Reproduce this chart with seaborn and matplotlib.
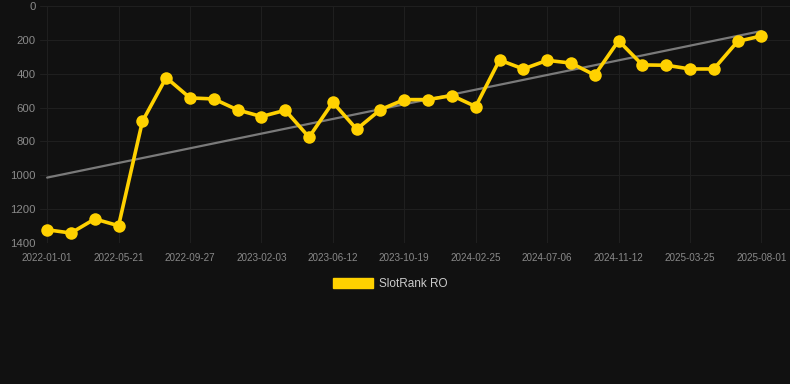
import matplotlib
matplotlib.use("Agg")
import matplotlib.pyplot as plt
from matplotlib.patches import Patch
import numpy as np
import pandas as pd
import seaborn as sns

# ranks, one point per period
ranks = [1322, 1341, 1258, 1298, 682, 423, 543, 549, 614, 653, 616, 775,
         569, 728, 612, 553, 553, 529, 594, 319, 372, 321, 337, 408, 205,
         348, 350, 372, 372, 209, 177]
tick_labels = ['2022-01-01', '2022-05-21', '2022-09-27', '2023-02-03',
               '2023-06-12', '2023-10-19', '2024-02-25', '2024-07-06',
               '2024-11-12', '2025-03-25', '2025-08-01']
series_name = 'SlotRank RO'

bg = '#111111'
gold = '#ffd100'
grid_col = '#1f1f1f'

sns.set_style('dark')
plt.rcParams['font.family'] = ['Liberation Sans', 'DejaVu Sans']

df = pd.DataFrame({'idx': np.arange(len(ranks)), 'rank': ranks})

fig = plt.figure(figsize=(7.9, 3.84), dpi=100, facecolor=bg)
ax = fig.add_axes([40 / 790, 1 - 243 / 384, 750 / 790, 237 / 384])
ax.set_facecolor(bg)

sns.regplot(data=df, x='idx', y='rank', scatter=False, ci=None, truncate=True,
            line_kws=dict(color='#7a7a7a', lw=1.6), ax=ax)
sns.lineplot(data=df, x='idx', y='rank', color=gold, lw=2.6, marker='o',
             markersize=9, markeredgewidth=0, ax=ax)

ax.set_xlim(-0.3, 31.2)
ax.set_ylim(1400, 0)
ax.set_yticks(range(0, 1401, 200))
ax.set_xticks(range(0, len(ranks), 3))
ax.set_xticklabels(tick_labels)
ax.tick_params(axis='y', colors='#8a8a8a', labelsize=8.2, length=0, pad=3)
ax.tick_params(axis='x', labelcolor='#8a8a8a', labelsize=7.1, length=5,
               color=grid_col, width=0.8, pad=2)
ax.grid(True, color=grid_col, lw=0.8)
ax.set_xlabel('')
ax.set_ylabel('')
for s in ax.spines.values():
    s.set_visible(False)

fig.legend(handles=[Patch(color=gold, label=series_name)], loc='center',
           bbox_to_anchor=(390 / 790, 1 - 284 / 384), frameon=False,
           handlelength=3.4, handleheight=1.0, handletextpad=0.5,
           labelcolor='#cccccc', fontsize=8.5)

fig.savefig('out.png', dpi=100, facecolor=bg)
